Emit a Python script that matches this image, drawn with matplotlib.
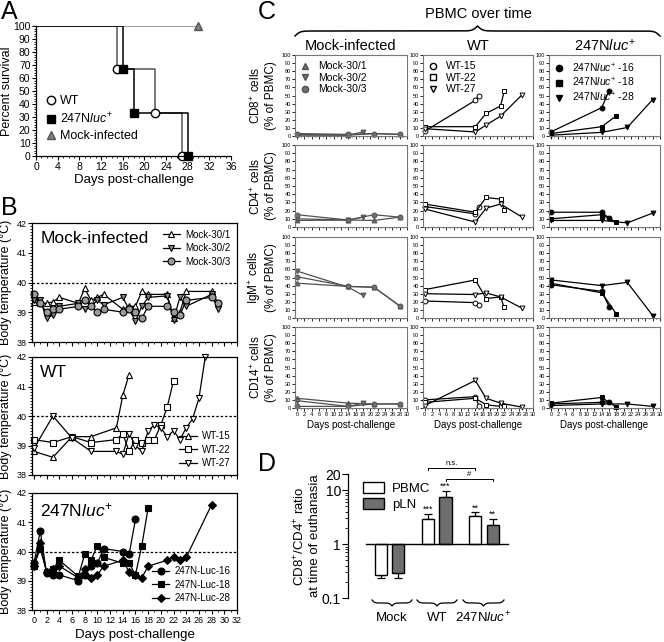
import numpy as np
import matplotlib
matplotlib.use('Agg')
import matplotlib.pyplot as plt
from matplotlib.lines import Line2D
from matplotlib.patches import Patch
from matplotlib.ticker import MultipleLocator, NullFormatter, FixedLocator

plt.rcParams['font.family'] = ['Liberation Sans', 'DejaVu Sans']
plt.rcParams['mathtext.fontset'] = 'custom'
plt.rcParams['mathtext.rm'] = 'Liberation Sans'
plt.rcParams['mathtext.it'] = 'Liberation Sans:italic'
plt.rcParams['axes.linewidth'] = 0.9
plt.rcParams['xtick.major.width'] = 0.8
plt.rcParams['ytick.major.width'] = 0.8

LUC = r'247N$\mathit{luc}^{+}$'

# ---- A: survival
surv_wt_days = [0, 15, 22, 27]
surv_wt = [100, 66.7, 33.3, 0]
surv_luc_days = [0, 16, 18, 28]
surv_luc = [100, 66.7, 33.3, 0]
surv_mock_days = [0, 30]
surv_mock = [100, 100]

# ---- B: body temperature
mock_days = [0, 1, 2, 3, 4, 7, 8, 9, 10, 11, 14, 15, 16, 17, 18, 21, 22, 23, 24, 28, 29]
mock1_temp = [39.35, 39.3, 39.3, 39.35, 39.5, 39.3, 39.8, 39.4, 39.5, 39.6, 39.1, 39.2, 39.2, 39.7, 39.6, 39.6, 38.8, 39.0, 39.7, 39.7, 39.3]
mock2_temp = [39.4, 39.4, 38.8, 38.9, 39.2, 39.3, 39.1, 39.2, 39.4, 39.25, 39.5, 39.1, 38.7, 39.2, 39.5, 39.55, 38.75, 39.5, 39.2, 39.6, 39.1]
mock3_temp = [39.6, 39.3, 39.0, 39.1, 39.1, 39.2, 39.4, 39.2, 39.0, 39.1, 39.0, 39.1, 39.0, 38.8, 39.2, 39.2, 39.0, 38.9, 39.4, 39.5, 39.3]

wt15_days = [0, 3, 6, 9, 13, 14, 15]
wt15_temp = [38.8, 38.6, 39.3, 39.3, 39.6, 40.7, 41.4]
wt22_days = [0, 3, 6, 9, 13, 14, 15, 16, 17, 18, 19, 20, 21, 22]
wt22_temp = [39.2, 39.1, 39.3, 39.1, 39.2, 39.4, 38.8, 39.2, 39.1, 39.2, 39.2, 39.7, 40.3, 41.2]
wt27_days = [0, 3, 6, 9, 13, 14, 15, 16, 17, 18, 19, 20, 21, 22, 23, 24, 25, 26, 27]
wt27_temp = [38.9, 40.0, 39.25, 38.8, 38.8, 38.7, 39.4, 39.0, 38.8, 39.5, 39.7, 39.6, 39.3, 39.5, 39.2, 39.6, 39.9, 40.6, 42.0]

luc16_days = [0, 1, 2, 3, 4, 7, 8, 9, 10, 11, 14, 15, 16]
luc16_temp = [39.6, 40.7, 39.25, 39.2, 39.2, 39.0, 39.2, 39.5, 39.6, 40.1, 40.0, 39.9, 41.1]
luc18_days = [0, 1, 2, 3, 4, 7, 8, 9, 10, 11, 14, 15, 16, 17, 18]
luc18_temp = [39.5, 40.1, 39.3, 39.4, 39.7, 39.15, 39.9, 39.7, 40.2, 39.8, 39.6, 39.6, 39.2, 40.2, 41.5]
luc28_days = [0, 1, 2, 3, 4, 7, 8, 9, 10, 11, 14, 15, 16, 17, 18, 21, 22, 23, 24, 28]
luc28_temp = [39.5, 40.3, 39.3, 39.4, 39.5, 39.1, 39.4, 39.1, 39.2, 39.5, 39.7, 39.3, 39.2, 39.1, 39.5, 39.7, 39.8, 39.7, 39.8, 41.6]

# ---- C: PBMC over time (% of PBMC)
m1_days = [0, 14, 21, 28]
m2_days = [0, 14, 18]
m3_days = [0, 14, 21, 28]
m1_cd8, m2_cd8, m3_cd8 = [2, 1, 3, 2], [1, 1, 5], [3, 2, 3, 2]
m1_cd4, m2_cd4, m3_cd4 = [8, 8.5, 8, 12], [10, 8.5, 12], [15, 8.5, 15, 12]
m1_igm, m2_igm, m3_igm = [43, 39, 38, 15], [58, 38, 28], [51, 39, 38, 15]
m1_cd14, m2_cd14, m3_cd14 = [12, 6, 5, 5], [9, 2, 6], [2, 2, 5, 5]

w15_days = [0, 14, 15]
w22_days = [0, 14, 17, 21, 22]
w27_days = [0, 14, 17, 21, 27]
w15_cd8, w22_cd8, w27_cd8 = [6, 44, 50], [11.5, 11.5, 28, 37, 55], [9, 5, 13.5, 24.5, 51]
w15_cd4, w22_cd4, w27_cd4 = [25, 16, 25], [28, 18, 36, 34, 21], [22, 6, 23, 28, 12]
w15_igm, w22_igm, w27_igm = [21, 19, 16], [35, 47, 24, 26, 13], [30, 29, 31, 26, 12]
w15_cd14, w22_cd14, w27_cd14 = [10, 14, 3], [7, 12, 4, 2, 2], [3, 34, 12, 6, 1]

l16_days = [0, 14, 16]
l18_days = [0, 14, 18]
l28_days = [0, 14, 21, 28]
l16_cd8, l18_cd8, l28_cd8 = [5, 35, 56], [3, 11.5, 25], [1, 4.5, 10.5, 45]
l16_cd4, l18_cd4, l28_cd4 = [18, 18, 11], [10, 15, 6], [8, 8, 5, 17]
l16_igm, l18_igm, l28_igm = [41, 33, 14], [43, 31, 5], [47, 40, 44, 3]
l16_cd14, l18_cd14, l28_cd14 = [5, 7, 8], [6, 13, 1], [3, 5, 5, 2]

# ---- D: CD8/CD4 ratio
d_groups = ['Mock', 'WT', LUC]
pbmc_ratio = [0.27, 2.9, 3.3]
pbmc_err = [0.03, 0.7, 0.6]
pln_ratio = [0.29, 7.4, 2.25]
pln_err = [0.055, 2.2, 0.65]
pbmc_stars = ['', '***', '**']
pln_stars = ['', '***', '**']

W, H = 664, 642
fig = plt.figure(figsize=(W / 100, H / 100), dpi=100)


def fax(l, t, r, b):
    return fig.add_axes([l / W, 1 - b / H, (r - l) / W, (b - t) / H])


def ftext(x, y, s, **kw):
    fig.text(x / W, 1 - y / H, s, **kw)


def brace(x0, x1, y_end, y_tip, curl=6.0, lw=1.0):
    w = x1 - x0
    b = 4.0 * w / curl
    t = np.linspace(0, 0.5, 300)
    yh = 1 / (1 + np.exp(-b * (t - t[0]))) + 1 / (1 + np.exp(-b * (t - t[-1])))
    yh = (yh - yh.min()) / (yh.max() - yh.min())
    y = np.concatenate([yh, yh[-2::-1]])
    tt = np.linspace(0, 1, y.size)
    xs = x0 + tt * w
    ys = y_end + y * (y_tip - y_end)
    fig.add_artist(Line2D(xs / W, 1 - ys / H, transform=fig.transFigure, color='k', lw=lw))


# ================= A
ax = fax(36, 26, 231, 156)
ax.step(surv_mock_days, surv_mock, where='post', color='#808080', lw=1.1)
ax.step(surv_wt_days, surv_wt, where='post', color='#555555', lw=1.1)
ax.step(surv_luc_days, surv_luc, where='post', color='k', lw=1.1)
ax.plot(surv_wt_days[1:], surv_wt[1:], 'o', mfc='white', mec='k', ms=6, clip_on=False)
ax.plot(surv_luc_days[1:], surv_luc[1:], 's', mfc='k', mec='k', ms=6, clip_on=False)
ax.plot(surv_mock_days[1:], surv_mock[1:], '^', mfc='#808080', mec='#555555', ms=6, clip_on=False)
ax.set_xlim(0, 36)
ax.set_ylim(0, 100)
ax.xaxis.set_major_locator(MultipleLocator(4))
ax.xaxis.set_minor_locator(MultipleLocator(1))
ax.yaxis.set_major_locator(MultipleLocator(10))
ax.yaxis.set_minor_locator(MultipleLocator(2))
for s in ['top', 'right']:
    ax.spines[s].set_visible(False)
ax.tick_params(labelsize=7.5, length=3, pad=1)
ax.tick_params(which='minor', length=1.5)
ax.set_xlabel('Days post-challenge', fontsize=9.5, labelpad=2)
ax.set_ylabel('Percent survival', fontsize=9, labelpad=0)
hA = [Line2D([], [], ls='', marker='o', mfc='white', mec='k', ms=6),
      Line2D([], [], ls='', marker='s', mfc='k', mec='k', ms=6),
      Line2D([], [], ls='', marker='^', mfc='#808080', mec='#555555', ms=6)]
ax.legend(hA, ['WT', LUC, 'Mock-infected'], loc='lower left', bbox_to_anchor=(0.0, 0.04),
          frameon=False, fontsize=9, handletextpad=0.2, handlelength=1.0, labelspacing=0.3,
          borderaxespad=0.3)
ftext(1, 0, 'A', fontsize=18, va='top', ha='left')

# ================= B
b_rows = [(223, 342), (357, 475), (493, 610)]
b_sets = [
    ('Mock-infected', [
        (mock_days, mock1_temp, '^', 'white', 'Mock-30/1'),
        (mock_days, mock2_temp, 'v', '#8a8a8a', 'Mock-30/2'),
        (mock_days, mock3_temp, 'o', '#9a9a9a', 'Mock-30/3')], 'upper right'),
    ('WT', [
        (wt15_days, wt15_temp, '^', 'white', 'WT-15'),
        (wt22_days, wt22_temp, 's', 'white', 'WT-22'),
        (wt27_days, wt27_temp, 'v', 'white', 'WT-27')], 'lower right'),
    (LUC, [
        (luc16_days, luc16_temp, 'o', 'k', '247N-Luc-16'),
        (luc18_days, luc18_temp, 's', 'k', '247N-Luc-18'),
        (luc28_days, luc28_temp, 'D', 'k', '247N-Luc-28')], 'lower right'),
]
for i, ((top, bot), (title, series, lloc)) in enumerate(zip(b_rows, b_sets)):
    ax = fax(32, top, 237, bot)
    handles = []
    for days, temp, mk, fc, lab in series:
        ms = 4 if mk == 'D' else 5
        h, = ax.plot(days, temp, '-', color='k', lw=0.9, marker=mk, mfc=fc, mec='k',
                     mew=0.8, ms=ms, label=lab, clip_on=False)
        handles.append(h)
    ax.axhline(40, color='k', ls=(0, (2, 1.5)), lw=0.9)
    ax.set_xlim(-0.3, 32)
    ax.set_ylim(38, 42)
    ax.xaxis.set_major_locator(MultipleLocator(2))
    ax.xaxis.set_minor_locator(MultipleLocator(1))
    ax.yaxis.set_major_locator(MultipleLocator(1))
    ax.yaxis.set_minor_locator(MultipleLocator(0.1))
    ax.tick_params(labelsize=6.5, length=3, pad=1)
    ax.tick_params(which='minor', length=1.5)
    if i < 2:
        ax.set_xticklabels([])
    else:
        ax.set_xlabel('Days post-challenge', fontsize=9.5, labelpad=3)
    ax.set_ylabel('Body temperature (°C)', fontsize=9, labelpad=3)
    ax.text(0.04, 0.93, title, transform=ax.transAxes, fontsize=12.5, va='top', ha='left')
    ax.legend(handles=handles, loc=lloc, frameon=False, fontsize=7, handlelength=1.8,
              handletextpad=0.5, labelspacing=0.35, borderaxespad=0.3)
ftext(1, 196, 'B', fontsize=18, va='top', ha='left')

# ================= C
c_cols = [(295, 407), (423, 533), (549, 660)]
c_rows = [(55, 136), (145, 227), (237, 318), (327, 408)]
row_names = [r'CD8$^{+}$ cells', r'CD4$^{+}$ cells', r'IgM$^{+}$ cells', r'CD14$^{+}$ cells']
c_groups = [
    [(m1_days, [m1_cd8, m1_cd4, m1_igm, m1_cd14], '^', '#707070', '#505050', 'Mock-30/1'),
     (m2_days, [m2_cd8, m2_cd4, m2_igm, m2_cd14], 'v', '#707070', '#505050', 'Mock-30/2'),
     (m3_days, [m3_cd8, m3_cd4, m3_igm, m3_cd14], 'o', '#707070', '#505050', 'Mock-30/3')],
    [(w15_days, [w15_cd8, w15_cd4, w15_igm, w15_cd14], 'o', 'white', 'k', 'WT-15'),
     (w22_days, [w22_cd8, w22_cd4, w22_igm, w22_cd14], 's', 'white', 'k', 'WT-22'),
     (w27_days, [w27_cd8, w27_cd4, w27_igm, w27_cd14], 'v', 'white', 'k', 'WT-27')],
    [(l16_days, [l16_cd8, l16_cd4, l16_igm, l16_cd14], 'o', 'k', 'k', LUC + ' -16'),
     (l18_days, [l18_cd8, l18_cd4, l18_igm, l18_cd14], 's', 'k', 'k', LUC + ' -18'),
     (l28_days, [l28_cd8, l28_cd4, l28_igm, l28_cd14], 'v', 'k', 'k', LUC + ' -28')],
]
col_titles = ['Mock-infected', 'WT', LUC]
for ci, ((cl, cr), grp) in enumerate(zip(c_cols, c_groups)):
    for ri, (rt, rb) in enumerate(c_rows):
        ax = fax(cl, rt, cr, rb)
        for days, vals, mk, fc, lc, lab in grp:
            ax.plot(days, vals[ri], '-', color=lc, lw=0.9, marker=mk, mfc=fc, mec=lc,
                    mew=0.7, ms=3.5, clip_on=False)
        ax.set_xlim(-0.5, 30)
        ax.set_ylim(0, 100)
        ax.xaxis.set_major_locator(MultipleLocator(2))
        ax.xaxis.set_minor_locator(MultipleLocator(1))
        ax.yaxis.set_major_locator(MultipleLocator(10))
        ax.tick_params(labelsize=4, length=2, pad=1, width=0.6)
        ax.tick_params(which='minor', length=1, width=0.5)
        for s in ax.spines.values():
            s.set_color('#777777')
            s.set_linewidth(0.8)
        if ri < 3:
            ax.set_xticklabels([])
        else:
            ax.set_xlabel('Days post-challenge', fontsize=7, labelpad=2)
        if ci == 0:
            ax.set_ylabel(row_names[ri] + '\n(% of PBMC)', fontsize=8.5, labelpad=3)
        if ri == 0:
            hs = [Line2D([], [], ls='', marker=mk, mfc=fc, mec=lc, ms=4.5)
                  for days, vals, mk, fc, lc, lab in grp]
            ax.legend(hs, [g[5] for g in grp], loc='upper left', frameon=False,
                      fontsize=7.5, handlelength=0.8, handletextpad=0.8,
                      labelspacing=0.15, borderaxespad=0.2)
    ftext((cl + cr) / 2, 46, col_titles[ci], fontsize=10.5, ha='center', va='center')

brace(295, 660, 36, 26, curl=10, lw=1.1)
ftext(478, 14, 'PBMC over time', fontsize=10.5, ha='center', va='center')
ftext(258, 0, 'C', fontsize=18, va='top', ha='left')

# ================= D
ax = fax(348, 474, 510, 598)
x = np.arange(len(d_groups))
off, bw = 0.186, 0.26
pb = np.array(pbmc_ratio)
pl = np.array(pln_ratio)
ax.bar(x - off, pb - 1, bottom=1, width=bw, color='white', edgecolor='k', lw=1, zorder=2)
ax.bar(x + off, pl - 1, bottom=1, width=bw, color='#6e6e6e', edgecolor='k', lw=1, zorder=2)
for xs, vals, errs in [(x - off, pb, pbmc_err), (x + off, pl, pln_err)]:
    lo = [e if v < 1 else 0 for v, e in zip(vals, errs)]
    hi = [e if v >= 1 else 0 for v, e in zip(vals, errs)]
    ax.errorbar(xs, vals, yerr=[lo, hi], fmt='none', ecolor='k', capsize=3,
                elinewidth=0.9, capthick=0.9, zorder=1)
for xs, vals, errs, stars in [(x - off, pb, pbmc_err, pbmc_stars), (x + off, pl, pln_err, pln_stars)]:
    for xx, v, e, st in zip(xs, vals, errs, stars):
        if st:
            ax.text(xx, (v + e) * 1.0, st, ha='center', va='bottom', fontsize=6.5)
ax.plot([x[0] - 0.5, x[-1] + 0.5], [1, 1], color='k', lw=1, zorder=3)


def bracket(xa, xb, y, label, drop=0.94):
    ax.plot([xa, xa, xb, xb], [y * drop, y, y, y * drop], color='k', lw=0.7, clip_on=False)
    ax.text((xa + xb) / 2, y * 1.05, label, ha='center', va='bottom', fontsize=5.5)


bracket(x[1] - off, x[2] - off, 25.5, 'n.s.')
bracket(x[1] + off, x[2] + off, 16, '#')
ax.set_yscale('log')
ax.set_ylim(0.1, 20)
ax.set_xlim(-0.877, 2.55)
ax.yaxis.set_major_locator(FixedLocator([0.1, 1, 10, 20]))
ax.set_yticklabels(['0.1', '1', '10', '20'])
ax.yaxis.set_minor_formatter(NullFormatter())
ax.set_xticks([])
for s in ['top', 'right', 'bottom']:
    ax.spines[s].set_visible(False)
ax.tick_params(axis='y', labelsize=10, length=4, pad=1)
ax.tick_params(axis='y', which='minor', length=2)
ax.legend([Patch(fc='white', ec='k'), Patch(fc='#6e6e6e', ec='k')], ['PBMC', 'pLN'],
          loc='upper left', bbox_to_anchor=(0.02, 1.03), frameon=False, fontsize=9.5,
          handlelength=1.6, handleheight=0.9, labelspacing=0.2, handletextpad=0.6)
ftext(307, 536, 'CD8$^{+}$/CD4$^{+}$ ratio\nat time of euthanasia', fontsize=9.5,
      rotation=90, ha='center', va='center')
for gx0, gx1, lab in [(372, 412, d_groups[0]), (417, 457, d_groups[1]), (463, 504, d_groups[2])]:
    brace(gx0, gx1, 600, 606, curl=5, lw=0.9)
    ftext((gx0 + gx1) / 2, 618, lab, fontsize=9.5, ha='center', va='center')
ftext(258, 452, 'D', fontsize=18, va='top', ha='left')

fig.savefig('out.png', dpi=100)
